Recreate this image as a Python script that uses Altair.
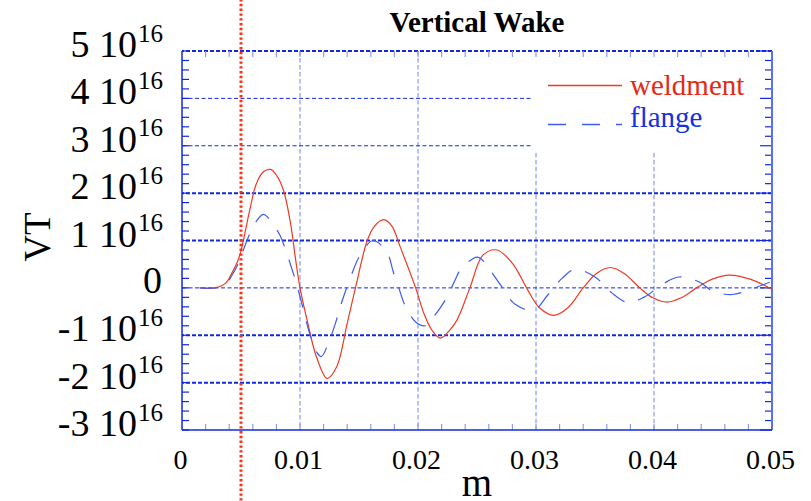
import altair as alt
import pandas as pd

# ---- wake potential, s in metres, VT in units of 1e16 ----
weld_s = [0.0015, 0.0028, 0.0037, 0.0042, 0.0047, 0.0050, 0.0052, 0.0058, 0.0063, 0.0069,
          0.0075, 0.0080, 0.0086, 0.0092, 0.0096, 0.0100, 0.0106, 0.0114, 0.0123, 0.0131,
          0.0140, 0.0147, 0.0157, 0.0163, 0.0171, 0.0178, 0.0185, 0.0198, 0.0205, 0.0212,
          0.0219, 0.0227, 0.0233, 0.0244, 0.0255, 0.0267, 0.0279, 0.0284, 0.0292, 0.0303,
          0.0315, 0.0327, 0.0340, 0.0351, 0.0363, 0.0375, 0.0388, 0.0399, 0.0411, 0.0423,
          0.0436, 0.0450, 0.0464, 0.0482, 0.0500]
weld_vt = [0.0, 0.0, 0.10, 0.30, 0.55, 0.78, 1.0, 1.71, 2.20, 2.45,
           2.50, 2.38, 2.06, 1.36, 0.65, 0.0, -0.68, -1.46, -1.91, -1.67,
           -0.75, 0.0, 1.0, 1.30, 1.44, 1.30, 0.86, 0.0, -0.54, -0.90,
           -1.06, -0.89, -0.68, 0.0, 0.69, 0.80, 0.55, 0.37, 0.0, -0.42,
           -0.58, -0.42, 0.0, 0.30, 0.43, 0.30, 0.0, -0.21, -0.30, -0.21,
           0.0, 0.19, 0.27, 0.18, -0.03]

flange_s = [0.0015, 0.0028, 0.0037, 0.0042, 0.0047, 0.0051, 0.0053, 0.0062, 0.0069, 0.0074,
            0.0083, 0.0087, 0.0093, 0.0097, 0.0103, 0.0108, 0.0114, 0.0118, 0.0125, 0.0130,
            0.0135, 0.0144, 0.0151, 0.0162, 0.0174, 0.0179, 0.0183, 0.0189, 0.0198, 0.0206,
            0.0212, 0.0222, 0.0230, 0.0237, 0.0250, 0.0254, 0.0262, 0.0272, 0.0282, 0.0298,
            0.0310, 0.0322, 0.0333, 0.0350, 0.0364, 0.0378, 0.0392, 0.0408, 0.0421, 0.0438,
            0.0450, 0.0466, 0.0480, 0.0498]
flange_vt = [0.0, 0.0, 0.08, 0.25, 0.48, 0.73, 0.87, 1.37, 1.55, 1.45,
             1.11, 0.86, 0.41, 0.09, -0.47, -0.95, -1.35, -1.45, -1.10, -0.75,
             -0.33, 0.30, 0.69, 1.0, 0.73, 0.34, 0.06, -0.37, -0.72, -0.80,
             -0.65, -0.30, 0.09, 0.42, 0.65, 0.60, 0.34, -0.01, -0.34, -0.47,
             -0.15, 0.20, 0.39, 0.23, -0.10, -0.31, -0.19, 0.09, 0.23, 0.13,
             -0.07, -0.14, -0.05, 0.12]

# axis / grid layout (VT mantissas in units of 1e16, s in metres)
y_major = [5, 4, 3, 2, 1, 0, -1, -2, -3]
x_major = [0, 0.01, 0.02, 0.03, 0.04, 0.05]
x_major_text = ["0", "0.01", "0.02", "0.03", "0.04", "0.05"]
grid_thick = [5, 2, 1, -1, -2]
grid_thin = [0, 3, 4]
grid_thin_end = [0.05, 0.0297, 0.0297]
grid_v = [0.01, 0.02, 0.03, 0.04]
grid_v_top = [5, 5, 2.85, 2.85]
marker_s = 0.005

E16 = 1e16
W, H = 590, 379
SERIF = "Liberation Serif"
RED = "#ee3a22"
RED_DOT = "#ff2e12"
RED_TXT = "#e42a14"
BLUE = "#1228e0"
BLUE_LINE = "#3d5cf0"
BLUE_LIGHT = "#6f84f6"
BLUE_TXT = "#1530dd"

xs = alt.Scale(domain=[0, 0.05], nice=False, zero=False)
ys = alt.Scale(domain=[-3 * E16, 5 * E16], nice=False, zero=False)


def X(field):
    return alt.X(field, type="quantitative", scale=xs, axis=None)


def Y(field):
    return alt.Y(field, type="quantitative", scale=ys, axis=None)


def one_row(**kw):
    return pd.DataFrame({k: [v] for k, v in kw.items()})


weld_df = pd.DataFrame({"s": weld_s, "vt": [v * E16 for v in weld_vt]})
flange_df = pd.DataFrame({"s": flange_s, "vt": [v * E16 for v in flange_vt]})

# ---- grid lines ----
hthick = alt.Chart(pd.DataFrame({"v": [g * E16 for g in grid_thick]})).mark_rule(
    color=BLUE, strokeWidth=2, strokeDash=[4, 2]
).encode(y=Y("v"))

hthin = alt.Chart(pd.DataFrame({"v": [g * E16 for g in grid_thin],
                                "a": [0.0] * len(grid_thin), "b": grid_thin_end})).mark_rule(
    color=BLUE, strokeWidth=1, strokeDash=[4, 2.5]
).encode(y=Y("v"), x=X("a"), x2="b")

vgrid = alt.Chart(pd.DataFrame({"s": grid_v, "top": [t * E16 for t in grid_v_top],
                                "bot": [-3 * E16] * len(grid_v)})).mark_rule(
    color=BLUE_LIGHT, strokeWidth=1, strokeDash=[4.5, 2.5]
).encode(x=X("s"), y=Y("top"), y2="bot")

# ---- frame ----
left_edge = alt.Chart(one_row(s=0.0, a=-3 * E16, b=5 * E16)).mark_rule(
    color=BLUE, strokeWidth=1.5).encode(x=X("s"), y=Y("a"), y2="b")
right_edge = alt.Chart(one_row(s=0.05, a=-3 * E16, b=5 * E16)).mark_rule(
    color="#5a72f2", strokeWidth=2).encode(x=X("s"), y=Y("a"), y2="b")
bottom_edge = alt.Chart(one_row(v=-3 * E16)).mark_rule(
    color=BLUE, strokeWidth=1.5).encode(y=Y("v"))

# ---- inward ticks ----
y_minor = [round(-3 + 0.2 * i, 1) for i in range(41)]
x_minor = [round(0.002 * i, 3) for i in range(1, 25)]
yt = pd.DataFrame({"v": [m * E16 for m in y_minor],
                   "major": [abs(m - round(m)) < 1e-9 for m in y_minor]})

left_ticks = alt.Chart(yt).mark_rule(color=BLUE, strokeWidth=1.2).encode(
    y=Y("v"), x=alt.value(0), x2=alt.value(7))
right_minor = alt.Chart(yt[~yt["major"]]).mark_rule(color=BLUE, strokeWidth=1.2).encode(
    y=Y("v"), x=alt.value(W), x2=alt.value(W - 7))
right_major = alt.Chart(yt[yt["major"]]).mark_rule(color=BLUE, strokeWidth=1.2).encode(
    y=Y("v"), x=alt.value(W), x2=alt.value(W - 12))

xt = pd.DataFrame({"s": x_minor})
bottom_ticks = alt.Chart(xt).mark_rule(color="#8d9cf3", strokeWidth=1.2).encode(
    x=X("s"), y=alt.value(H), y2=alt.value(H - 6))
top_ticks = alt.Chart(xt).mark_rule(color="#8d9cf3", strokeWidth=1.2).encode(
    x=X("s"), y=alt.value(0), y2=alt.value(6))

# ---- curves ----
weld_line = alt.Chart(weld_df).mark_line(
    color=RED, strokeWidth=1.2, interpolate="catmull-rom"
).encode(x=X("s"), y=Y("vt"))

flange_line = alt.Chart(flange_df).mark_line(
    color=BLUE_LINE, strokeWidth=1.2, strokeDash=[18, 14], interpolate="catmull-rom"
).encode(x=X("s"), y=Y("vt"))

# vertical marker at s = 5 mm, running across the whole picture
marker = alt.Chart(one_row(s=marker_s)).mark_rule(
    color=RED_DOT, strokeWidth=3, strokeDash=[2.4, 2.4]
).encode(x=X("s"), y=alt.value(-52), y2=alt.value(H + 75))

# ---- x tick labels and axis titles ----
xlab = alt.Chart(pd.DataFrame({"s": x_major, "t": x_major_text})).mark_text(
    align="center", baseline="alphabetic", dx=-1.5, font=SERIF, fontSize=28, color="black"
).encode(x=X("s"), y=alt.value(H + 39), text="t:N")

xtitle = alt.Chart(one_row(t="m")).mark_text(
    align="center", baseline="alphabetic", font=SERIF, fontSize=39, color="black"
).encode(x=alt.value(W / 2), y=alt.value(H + 66), text="t:N")

ytitle = alt.Chart(one_row(t="VT")).mark_text(
    align="center", baseline="alphabetic", angle=270, font=SERIF, fontSize=37, color="black"
).encode(x=alt.value(-132), y=alt.value(186), text="t:N")

# ---- y tick labels: "k 10^16" ----
lab_df = pd.DataFrame({
    "v": [m * E16 for m in y_major if m != 0],
    "main": [f"{m} 10" for m in y_major if m != 0],
    "sup": ["16" for m in y_major if m != 0],
})
ylab_main = alt.Chart(lab_df).mark_text(
    align="right", baseline="alphabetic", dy=6, font=SERIF, fontSize=38, color="black"
).encode(y=Y("v"), x=alt.value(-45), text="main:N")
ylab_sup = alt.Chart(lab_df).mark_text(
    align="right", baseline="alphabetic", dy=-9.5, font=SERIF, fontSize=25, color="black"
).encode(y=Y("v"), x=alt.value(-19), text="sup:N")
ylab_zero = alt.Chart(one_row(v=0.0, t="0")).mark_text(
    align="right", baseline="alphabetic", dy=5.5, font=SERIF, fontSize=38, color="black"
).encode(y=Y("v"), x=alt.value(-20), text="t:N")

# ---- title ----
title = alt.Chart(one_row(t="Vertical Wake")).mark_text(
    align="center", baseline="alphabetic", font=SERIF, fontSize=29,
    fontWeight="bold", color="black"
).encode(x=alt.value(W / 2), y=alt.value(-19), text="t:N")

# ---- legend ----
leg_red = alt.Chart(one_row(k=1)).mark_rule(color=RED, strokeWidth=1.3).encode(
    x=alt.value(366), x2=alt.value(440), y=alt.value(34.5))
leg_blue = alt.Chart(one_row(k=1)).mark_rule(
    color=BLUE_LINE, strokeWidth=1.3, strokeDash=[18, 16]).encode(
    x=alt.value(366), x2=alt.value(440), y=alt.value(73.5))
leg_t1 = alt.Chart(one_row(t="weldment")).mark_text(
    align="left", baseline="alphabetic", font=SERIF, fontSize=29, color=RED_TXT
).encode(x=alt.value(448), y=alt.value(44), text="t:N")
leg_t2 = alt.Chart(one_row(t="flange")).mark_text(
    align="left", baseline="alphabetic", font=SERIF, fontSize=29, color=BLUE_TXT
).encode(x=alt.value(448), y=alt.value(76), text="t:N")

chart = alt.layer(
    vgrid, hthin, hthick,
    left_ticks, right_minor, right_major, bottom_ticks, top_ticks,
    left_edge, right_edge, bottom_edge,
    weld_line, flange_line,
    marker,
    xlab, xtitle, ytitle,
    ylab_main, ylab_sup, ylab_zero, title,
    leg_red, leg_blue, leg_t1, leg_t2,
).properties(
    width=W, height=H,
    padding={"left": 182, "top": 51, "right": 811 - 182 - W, "bottom": 501 - 51 - H},
    autosize=alt.AutoSizeParams(type="none"),
    background="white",
).configure_view(stroke=None)

chart.save("out.html", embed_options={"renderer": "svg", "actions": False})
